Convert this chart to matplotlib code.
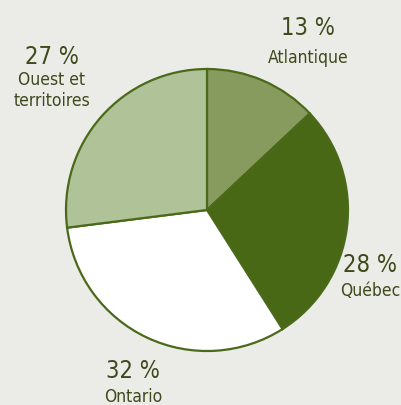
import matplotlib
matplotlib.use("Agg")
from matplotlib import pyplot as plt

regions = ["Atlantique", "Québec", "Ontario", "Ouest et\nterritoires"]
shares = [13, 28, 32, 27]
colors = ["#879b5e", "#496815", "#ffffff", "#b0c297"]

bg = "#ebebe7"
edge = "#4a6a1a"
txt = "#3e4a1c"

plt.rcParams['font.family'] = ["DejaVu Sans"]

fig = plt.figure(figsize=(4.02, 4.06), dpi=100)
fig.patch.set_facecolor(bg)
ax = fig.add_axes([0, 0, 1, 1])
ax.set_aspect('equal')
ax.axis('off')

ax.pie(shares, colors=colors, startangle=90, counterclock=False,
       center=(207, 195), radius=141,
       wedgeprops=dict(edgecolor=edge, linewidth=1.6))
ax.set_xlim(0, 402)
ax.set_ylim(0, 406)

# x centre, baseline of percent, baseline of first name line (px from top)
pos = [(308, 35, 63), (370, 272, 296), (133, 378, 402), (52, 64, 85)]
for (x, yp, yn), name, s in zip(pos, regions, shares):
    ax.text(x, 406 - yp, f"{s} %", ha='center', va='baseline',
            fontsize=17, color=txt, fontstretch='condensed')
    for i, line in enumerate(name.split("\n")):
        ax.text(x, 406 - yn - 21 * i, line, ha='center', va='baseline',
                fontsize=12.5, color=txt, fontstretch='condensed')

fig.savefig("out.png", dpi=100, facecolor=bg)
